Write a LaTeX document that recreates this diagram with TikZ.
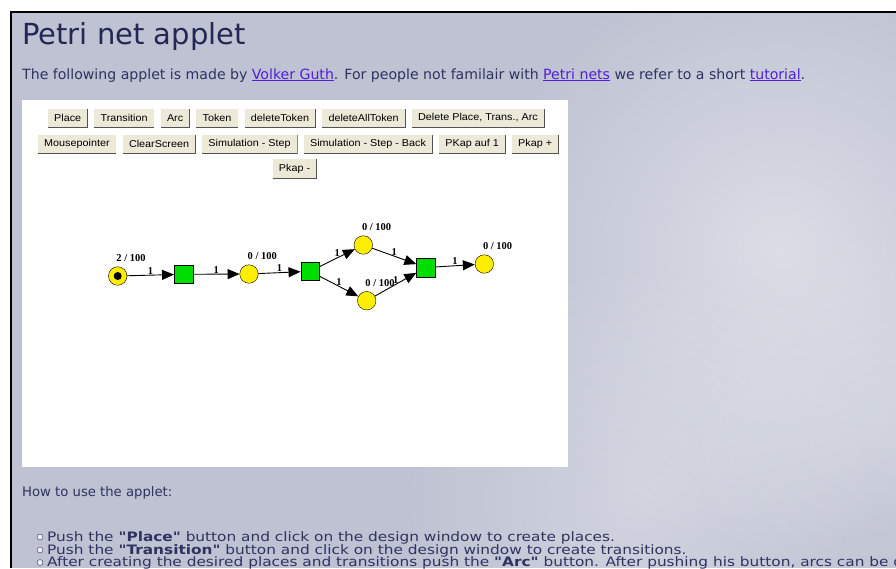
\documentclass[tikz,border=0pt]{standalone}
\usepackage{fontspec}
\setmainfont{DejaVu Sans}
\newfontfamily\stepfont{DejaVu Sans}[FakeStretch=1.18]
\newfontfamily\buttonfont{Liberation Sans}[FakeStretch=1.08]
\newfontfamily\netfont{Liberation Serif}
\usetikzlibrary{arrows.meta,positioning,fadings}

\definecolor{pagebg}{RGB}{190,194,210}
\definecolor{titleblue}{RGB}{36,38,84}
\definecolor{textblue}{RGB}{48,50,96}
\definecolor{linkblue}{RGB}{82,30,214}
\definecolor{buttonface}{RGB}{236,233,216}
\definecolor{placeyellow}{RGB}{255,238,0}
\definecolor{transgreen}{RGB}{0,222,0}

\tikzfading[name=cloudfade, inner color=transparent!0, outer color=transparent!100]

\newcommand{\weblink}[1]{\textcolor{linkblue}{\underline{#1}}}
\newcommand{\dq}{\symbol{34}}

\begin{document}
\begin{tikzpicture}[
        x=1pt, y=-1pt,
        >={Triangle[length=12pt,width=10pt]},
        pagetext/.style={
          anchor=base west,
          inner sep=0pt,
          text=textblue,
          font=\fontsize{14.1}{16}\selectfont
        },
        steptext/.style={
          pagetext,
          font=\stepfont\fontsize{13}{15}\selectfont
        },
        button/.style={
          rectangle,
          draw=white,
          fill=buttonface,
          minimum height=20.5pt,
          inner xsep=7pt,
          inner ysep=0pt,
          font=\buttonfont\fontsize{10}{12}\selectfont,
          node distance=5pt,
          path picture={
            \draw[line width=1.6pt,gray!65!black]
              (path picture bounding box.south west) --
              (path picture bounding box.south east) --
              (path picture bounding box.north east);}
        },
        place/.style={
          circle,
          draw,
          fill=placeyellow,
          minimum size=18.5pt,
          inner sep=0pt
        },
        tokendot/.style={circle, fill=black, minimum size=8pt, inner sep=0pt},
        transition/.style={
          rectangle,
          draw,
          fill=transgreen,
          minimum size=18.5pt,
          inner sep=0pt
        },
        capacity/.style={
          anchor=base west,
          inner sep=0pt,
          font=\netfont\bfseries\fontsize{10.5}{12}\selectfont
        },
        weight/.style={
          inner sep=0.5pt,
          font=\netfont\bfseries\fontsize{10.5}{12}\selectfont
        },
        arc/.style={->, line width=0.9pt},
        bulletmark/.style={
          circle,
          draw=textblue,
          fill=white!70!pagebg,
          minimum size=6pt,
          inner sep=0pt
        },
        cloud/.style={white, path fading=cloudfade}]
      \useasboundingbox (0,0) rectangle (896,568);
      \clip (0,0) rectangle (896,568);

      % page background
      \fill[white] (0,0) rectangle (896,568);
      \fill[pagebg] (11,12) rectangle (896,568);
      \begin{scope}
        \clip (11,12) rectangle (896,568);
        \fill[cloud, opacity=0.45] (780,250) circle (300);
        \fill[cloud, opacity=0.3] (640,500) circle (240);
        \fill[cloud, opacity=0.2] (880,420) circle (200);
      \end{scope}
      \draw[line width=2pt] (11,568) -- (11,12) -- (896,12);

      \node[pagetext, text=titleblue, font=\fontsize{29}{33}\selectfont]
        (title) at (22,44) {Petri net applet};
      \node[pagetext] (intro) at (22,79) {The following applet is made by
        \weblink{Volker Guth}. For people not familair with
        \weblink{Petri nets} we refer to a short \weblink{tutorial}.};

      % applet window
      \fill[white] (22,100) rectangle (568,467);

      \node[button, anchor=west] (place) at (47,118) {Place};
      \node[button] (transition) [right=of place] {Transition};
      \node[button] (arc) [right=of transition] {Arc};
      \node[button] (token) [right=of arc] {Token};
      \node[button] (deltoken) [right=of token] {deleteToken};
      \node[button] (delall) [right=of deltoken] {deleteAllToken};
      \node[button] (delpta) [right=of delall] {Delete Place, Trans., Arc};

      \node[button, anchor=west] (mouse) at (37,144) {Mousepointer};
      \node[button] (clear) [right=of mouse] {ClearScreen};
      \node[button] (simstep) [right=of clear] {Simulation - Step};
      \node[button] (simback) [right=of simstep] {Simulation - Step - Back};
      \node[button] (kapone) [right=of simback] {PKap auf 1};
      \node[button] (kapplus) [right=of kapone] {Pkap +};

      \node[button] (kapminus) at (294.5,168.5) {Pkap -};

      % the net
      \node[place] (p1) at (117.7,276) {};
      \node[tokendot] at (p1) {};
      \node[transition] (t1) at (183.5,274.3) {};
      \node[place] (p2) at (249,274) {};
      \node[transition] (t2) at (310,271.3) {};
      \node[place] (p3) at (363.3,245) {};
      \node[place] (p4) at (366.7,300.7) {};
      \node[transition] (t3) at (425.8,267.5) {};
      \node[place] (p5) at (484.3,264) {};

      \foreach \p/\c in {p1/2, p2/0, p3/0, p4/0, p5/0}
        \node[capacity] at ([xshift=-1.5pt,yshift=14.5pt]\p.center) {\c{} / 100};

      \draw[arc] (p1) -- node[weight, above] {1} (t1);
      \draw[arc] (t1) -- node[weight, above] {1} (p2);
      \draw[arc] (p2) -- node[weight, above] {1} (t2);
      \draw[arc] (t2) -- node[weight, above] {1} (p3);
      \draw[arc] (t2) -- node[weight, above] {1} (p4);
      \draw[arc] (p3) -- node[weight, above] {1} (t3);
      \draw[arc] (p4) -- node[weight, above] {1} (t3);
      \draw[arc] (t3) -- node[weight, above] {1} (p5);

      \node[pagetext, font=\fontsize{13.2}{15}\selectfont] (howto) at (22,496)
        {How to use the applet:};
      \node[steptext] (step1) at (47,541) {Push the
        \textbf{\dq Place\dq} button and click on the design window to create places.};
      \node[steptext] (step2) at (47,554) {Push the
        \textbf{\dq Transition\dq} button and click on the design window to create transitions.};
      \node[steptext] (step3) at (47,566.5) {After creating the desired places and
        transitions push the \textbf{\dq Arc\dq} button. After pushing his button, arcs can be d};
      \foreach \s in {step1, step2, step3}
        \node[bulletmark] at ([xshift=-7pt,yshift=4pt]\s.base west) {};
      \end{tikzpicture}
\end{document}
